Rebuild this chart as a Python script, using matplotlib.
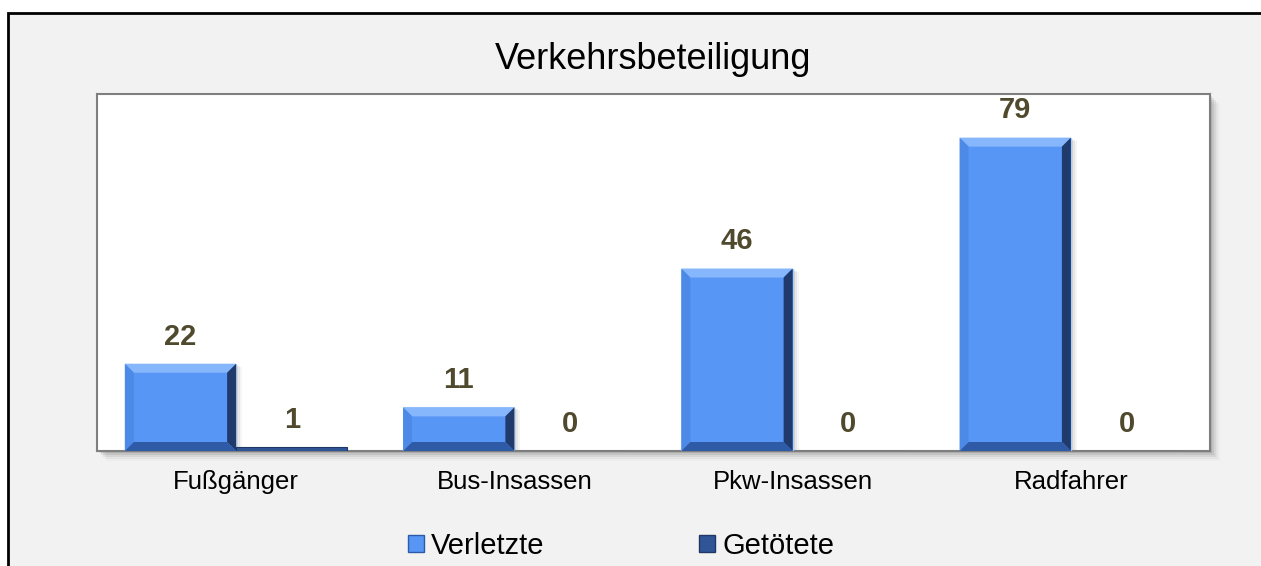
import matplotlib
matplotlib.use("Agg")
import matplotlib.pyplot as plt
from matplotlib.patches import Polygon, Rectangle, Patch

plt.rcParams["font.family"] = ["Liberation Sans", "DejaVu Sans"]

# data
categories = ["Fußgänger", "Bus-Insassen", "Pkw-Insassen", "Radfahrer"]
verletzte = [22, 11, 46, 79]
getoetete = [1, 0, 0, 0]
series_names = ["Verletzte", "Getötete"]
title = "Verkehrsbeteiligung"

W, H, DPI = 1261, 566, 100
BLUE = "#5896f5"
DARK = "#2f5597"
LABEL_COLOR = "#4f4a2e"
BEVEL_PX = 9


def fx(px):
    return px / W


def fy(px):
    return 1 - px / H


fig = plt.figure(figsize=(W / DPI, H / DPI), dpi=DPI, facecolor="white")

# outer grey panel with black border on left/top
fig.patches.append(Rectangle((fx(8), -0.2), 1.2, fy(13) + 0.2, transform=fig.transFigure,
                             facecolor="#f2f2f2", edgecolor="black", lw=2, zorder=0))

ax_l, ax_r, ax_t, ax_b = 97, 1210, 94, 451
# soft shadow behind plot area
for i, a in enumerate([0.10, 0.08, 0.06, 0.04, 0.02]):
    off = 2 + i * 2
    fig.patches.append(Rectangle((fx(ax_l + off), fy(ax_b + off)), fx(ax_r - ax_l), (ax_b - ax_t) / H,
                                 transform=fig.transFigure, facecolor="black", edgecolor="none",
                                 alpha=a, zorder=1))

ax = fig.add_axes([fx(ax_l), fy(ax_b), fx(ax_r - ax_l), (ax_b - ax_t) / H])
ax.set_facecolor("white")
ax.set_zorder(2)
for s in ax.spines.values():
    s.set_color("#7f7f7f")
    s.set_linewidth(1.5)

ax.set_xlim(-0.5, len(categories) - 0.5)
ax.set_ylim(0, 90)
ax.set_yticks([])
x = list(range(len(categories)))
ax.set_xticks(x)
ax.set_xticklabels(categories, fontsize=18.5, color="black")
ax.tick_params(axis="x", length=0, pad=14)

bw = 0.4
xpx = (ax_r - ax_l) / 4.0
ypx = (ax_b - ax_t) / 90.0
dx = BEVEL_PX / xpx
dy = BEVEL_PX / ypx


def bevel(x0, w, h):
    if h * ypx < 2.5 * BEVEL_PX:
        return
    x1 = x0 + w
    faces = [
        ([(x0, h), (x1, h), (x1 - dx, h - dy), (x0 + dx, h - dy)], "#86b6fb"),   # top
        ([(x0, 0), (x0, h), (x0 + dx, h - dy), (x0 + dx, dy)], "#4d8ae8"),       # left
        ([(x1, 0), (x1, h), (x1 - dx, h - dy), (x1 - dx, dy)], "#1f3a6b"),       # right
        ([(x0, 0), (x1, 0), (x1 - dx, dy), (x0 + dx, dy)], "#2e5aa6"),           # bottom
    ]
    for pts, c in faces:
        ax.add_patch(Polygon(pts, closed=True, facecolor=c, edgecolor="none", zorder=3))


for xi, v in zip(x, verletzte):
    # bar shadow
    for i, a in enumerate([0.08, 0.06, 0.04]):
        off = (2 + 2 * i) / xpx
        ax.add_patch(Rectangle((xi - bw + off, 0), bw, v - (2 + 2 * i) / ypx * 0.5,
                               facecolor="black", alpha=a, edgecolor="none", zorder=2))
b1 = ax.bar([xi - bw / 2 for xi in x], verletzte, bw, color=BLUE, edgecolor="#a9cdf7",
            linewidth=0.8, zorder=3, label=series_names[0])
b2 = ax.bar([xi + bw / 2 for xi in x], getoetete, bw, color=DARK, edgecolor="#1e3764",
            linewidth=0.8, zorder=3, label=series_names[1])
for xi, v in zip(x, verletzte):
    bevel(xi - bw, bw, v)

for bars, vals in ((b1, verletzte), (b2, getoetete)):
    for rect, v in zip(bars, vals):
        ax.annotate(str(v), (rect.get_x() + rect.get_width() / 2, v), xytext=(0, 9.5),
                    textcoords="offset points", ha="center", va="bottom",
                    fontsize=21, fontweight="bold", color=LABEL_COLOR, zorder=5)

fig.text(fx((ax_l + ax_r) / 2), fy(69), title, ha="center", va="baseline", fontsize=26, color="black")

handles = [Patch(facecolor=BLUE, edgecolor="#2e5aa6"), Patch(facecolor=DARK, edgecolor="#1e3764")]
fig.legend(handles, series_names, loc="center", bbox_to_anchor=(fx(621), fy(546)), ncol=2,
           frameon=False, fontsize=21, handlelength=0.55, handleheight=0.55, handletextpad=0.25,
           columnspacing=5.3)

fig.savefig("out.png", dpi=DPI, facecolor=fig.get_facecolor())
